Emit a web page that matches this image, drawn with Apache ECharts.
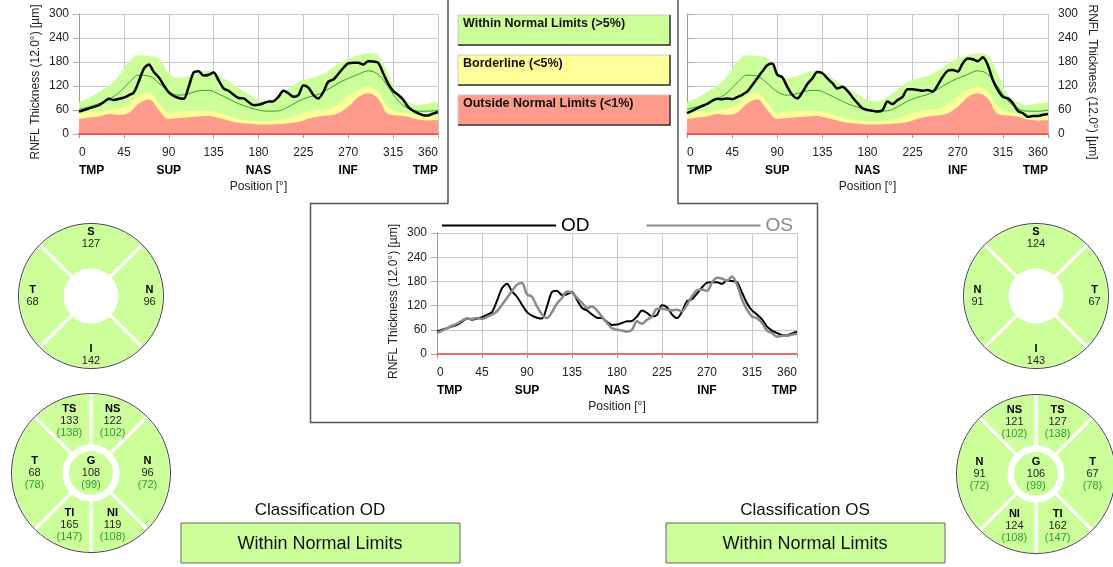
<!DOCTYPE html>
<html>
<head>
<meta charset="utf-8">
<script src="https://cdn.jsdelivr.net/npm/echarts@6/dist/echarts.min.js"></script>
<style>
html, body { margin: 0; padding: 0; background: #fff; }
#main { width: 1113px; height: 567px; }
</style>
</head>
<body>
<div id="main"></div>
<script>
const FONT = '"Liberation Sans", Arial, Helvetica, sans-serif';

// measured RNFL profile, one value every 5 degrees
const angles = [0,5,10,15,20,25,30,35,40,45,50,55,60,65,70,75,80,85,90,95,100,105,110,115,120,125,130,135,140,145,150,155,160,165,170,175,180,185,190,195,200,205,210,215,220,225,230,235,240,245,250,255,260,265,270,275,280,285,290,295,300,305,310,315,320,325,330,335,340,345,350,355,360];
const odThickness = [56,60,64,68,72,80,88,85,88,91,97,104,132,163,174,155,142,122,104,95,90,88,118,154,157,146,148,154,134,114,108,98,90,89,80,72,73,77,81,82,93,108,102,93,97,121,116,98,89,105,131,136,150,165,177,178,178,174,182,181,178,152,126,108,98,86,68,58,52,47,46,51,55];
const osThickness = [52,58,64,70,75,83,88,87,89,87,92,98,106,122,139,156,172,176,148,142,118,98,89,104,125,139,155,152,139,127,114,118,108,92,77,64,60,58,56,60,81,75,85,93,112,112,110,108,110,106,122,143,158,160,156,177,189,187,182,192,172,135,110,93,89,77,58,52,43,45,45,48,50];

// normative bands, one value every 10 degrees
const bandAngles = [0,10,20,30,40,50,60,70,80,90,100,110,120,130,140,150,160,170,180,190,200,210,220,230,240,250,260,270,280,290,300,310,320,330,340,350,360];
const normalUpper = [80,90,105,120,145,180,197,195,189,152,140,145,155,158,146,131,114,100,85,82,92,112,130,138,145,158,175,188,196,202,196,150,97,80,72,76,80];
const normalMean = [62,68,76,87,103,128,147,145,127,106,97,101,108,109,100,88,76,67,60,57,58,68,82,92,99,112,127,139,149,158,149,118,83,64,57,57,60];
const borderlineTop = [53,55,57,60,63,75,97,102,78,54,56,57,58,58,54,45,38,34,32,32,35,40,48,56,60,62,75,95,110,118,105,68,55,52,47,45,46];
const outsideTop = [37,41,44,50,48,53,76,86,60,38,40,42,44,45,40,34,28,26,24,24,25,27,30,38,44,46,52,68,92,102,88,50,46,43,36,34,35];

const sectorAngles = [0, 90, 180, 270, 360];
const sectorLabels = ['TMP', 'SUP', 'NAS', 'INF', 'TMP'];

const legendLabels = ['Within Normal Limits (>5%)', 'Borderline (<5%)', 'Outside Normal Limits (<1%)'];

// quadrant circles
const quadSpans = [90, 90, 90, 90];
const odQuadNames = ['S', 'N', 'I', 'T'];
const odQuadValues = [127, 96, 142, 68];
const osQuadNames = ['S', 'T', 'I', 'N'];
const osQuadValues = [124, 67, 143, 91];

// sector circles
const sectorSpans = [45, 90, 45, 45, 90, 45];
const odSectorNames = ['NS', 'N', 'NI', 'TI', 'T', 'TS'];
const odSectorValues = [122, 96, 119, 165, 68, 133];
const odSectorNormals = [102, 72, 108, 147, 78, 138];
const osSectorNames = ['TS', 'T', 'TI', 'NI', 'N', 'NS'];
const osSectorValues = [127, 67, 162, 124, 91, 121];
const osSectorNormals = [138, 78, 147, 108, 72, 102];
const odGlobal = [108, 99];
const osGlobal = [106, 99];

const classificationOD = 'Within Normal Limits';
const classificationOS = 'Within Normal Limits';

const GREEN = '#ccff99', YELLOW = '#ffff99', RED = '#ff9b8d';

function pts(xs, ys) {
    return xs.map((x, i) => [x, ys[i]]);
}

function xAxisFor(idx) {
    return {
        gridIndex: idx, type: 'value', min: 0, max: 360, interval: 45,
        name: 'Position [°]', nameLocation: 'middle', nameGap: 47,
        nameTextStyle: { fontSize: 12, color: '#222' },
        axisLine: { show: true, onZero: false, lineStyle: { color: '#ff4040', width: 1.5 } },
        axisTick: { show: true, length: 4, lineStyle: { color: '#999' } },
        splitLine: { show: true, lineStyle: { color: '#c8c8c8' } },
        axisLabel: {
            margin: 10, color: '#222', fontSize: 12, lineHeight: 18,
            alignMinLabel: 'left', alignMaxLabel: 'right',
            formatter: function (v) {
                const k = sectorAngles.indexOf(v);
                return k >= 0 ? v + '\n{b|' + sectorLabels[k] + '}' : String(v);
            },
            rich: { b: { fontWeight: 'bold', fontSize: 12, color: '#000', lineHeight: 18 } }
        }
    };
}

function yAxisFor(idx, right) {
    return {
        gridIndex: idx, type: 'value', min: 0, max: 300, interval: 60,
        position: right ? 'right' : 'left',
        name: 'RNFL Thickness (12.0°) [µm]', nameLocation: 'middle', nameGap: right ? 38 : 37,
        nameRotate: right ? -90 : 90,
        nameTextStyle: { fontSize: 12, color: '#222', padding: right ? [0, 0, 0, 16] : [0, 16, 0, 0] },
        axisLine: { show: true, lineStyle: { color: '#999' } },
        axisTick: { show: true, length: 6, lineStyle: { color: '#aaa' } },
        splitLine: { show: true, lineStyle: { color: '#c8c8c8' } },
        axisLabel: { margin: 10, color: '#222', fontSize: 12 }
    };
}

function profileSeries(idx, values, nm) {
    const base = { type: 'line', xAxisIndex: idx, yAxisIndex: idx, showSymbol: false, symbol: 'none', silent: true };
    return [
        Object.assign({}, base, { name: nm + ' normal', data: pts(bandAngles, normalUpper), smooth: 0.4,
            lineStyle: { width: 0 }, areaStyle: { color: GREEN, opacity: 1 } }),
        Object.assign({}, base, { name: nm + ' borderline', data: pts(bandAngles, borderlineTop), smooth: 0.4,
            lineStyle: { width: 0 }, areaStyle: { color: YELLOW, opacity: 1 } }),
        Object.assign({}, base, { name: nm + ' outside', data: pts(bandAngles, outsideTop), smooth: 0.4,
            lineStyle: { width: 0 }, areaStyle: { color: RED, opacity: 1 },
            markLine: { symbol: 'none', silent: true, label: { show: false },
                lineStyle: { color: '#ff4040', width: 1.5, type: 'solid' }, data: [{ yAxis: 0 }] } }),
        Object.assign({}, base, { name: nm + ' mean', data: pts(bandAngles, normalMean), smooth: 0.4,
            lineStyle: { color: '#2ca02c', width: 1 } }),
        Object.assign({}, base, { name: nm + ' profile', data: pts(angles, values), smooth: 0.3,
            lineStyle: { color: '#000', width: 2.5 } })
    ];
}

const labelRich = {
    b: { fontWeight: 'bold', fontSize: 11, color: '#000', lineHeight: 12 },
    n: { fontSize: 11, color: '#2e9e2e', lineHeight: 12 }
};

function quadPies(cx, cy, names, vals) {
    const data = quadSpans.map((s, i) => ({ name: names[i], value: s }));
    return [
        { type: 'pie', center: [cx, cy], radius: [26, 73], startAngle: 135, clockwise: true, silent: true,
          label: { show: false }, labelLine: { show: false },
          itemStyle: { color: GREEN, borderColor: '#fff', borderWidth: 3 }, data: data },
        // transparent ring that only carries the labels a bit further out
        { type: 'pie', center: [cx, cy], radius: [38, 73], startAngle: 135, clockwise: true, silent: true,
          labelLine: { show: false },
          itemStyle: { color: 'rgba(0,0,0,0)', borderWidth: 0 },
          label: { show: true, position: 'inside', fontSize: 11, color: '#222', lineHeight: 12, rich: labelRich,
                   formatter: p => '{b|' + p.name + '}\n' + vals[p.dataIndex] },
          data: data }
    ];
}

function sectorPies(cx, cy, names, vals, norms, glob) {
    return [
        { type: 'pie', center: [cx, cy], radius: [27, 80], startAngle: 90, clockwise: true, silent: true,
          labelLine: { show: false },
          itemStyle: { color: GREEN, borderColor: '#fff', borderWidth: 3 },
          label: { show: true, position: 'inside', fontSize: 11, color: '#222', lineHeight: 12, rich: labelRich,
                   formatter: p => '{b|' + p.name + '}\n' + vals[p.dataIndex] + '\n{n|(' + norms[p.dataIndex] + ')}' },
          data: sectorSpans.map((s, i) => ({ name: names[i], value: s })) },
        { type: 'pie', center: [cx, cy], radius: [0, 22], silent: true, labelLine: { show: false },
          itemStyle: { color: GREEN },
          label: { show: true, position: 'center', fontSize: 11, color: '#222', lineHeight: 12, rich: labelRich,
                   formatter: p => '{b|' + p.name + '}\n' + glob[0] + '\n{n|(' + glob[1] + ')}' },
          data: [{ name: 'G', value: 1 }] }
    ];
}

const chart = echarts.init(document.getElementById('main'));

const legendColors = [GREEN, YELLOW, RED];
const graphics = [
    { type: 'polyline', z: 50, shape: { points: [[448, 0], [448, 203.5], [310.5, 203.5], [310.5, 422.5], [817.5, 422.5], [817.5, 203.5], [678, 203.5], [678, 0]] },
      style: { stroke: '#555', lineWidth: 1.5, fill: null } }
];
legendLabels.forEach((t, i) => {
    const y = 15 + i * 40;
    graphics.push({ type: 'rect', shape: { x: 458, y: y, width: 212, height: 30 }, style: { fill: legendColors[i], stroke: '#ccc', lineWidth: 1 } });
    graphics.push({ type: 'polyline', shape: { points: [[458, y + 30], [670, y + 30], [670, y]] }, style: { stroke: '#333', lineWidth: 1.5, fill: null } });
    graphics.push({ type: 'text', x: 463, y: y + 2, style: { text: t, fontFamily: FONT, fontSize: 12.5, fontWeight: 'bold', fill: '#111' } });
});
[[320, 'Classification OD', classificationOD], [805, 'Classification OS', classificationOS]].forEach(c => {
    graphics.push({ type: 'text', x: c[0], y: 510, style: { text: c[1], fontFamily: FONT, fontSize: 17, fill: '#111', align: 'center', verticalAlign: 'middle' } });
    graphics.push({ type: 'rect', shape: { x: c[0] - 139, y: 523, width: 279, height: 40 }, style: { fill: GREEN, stroke: '#666', lineWidth: 1 } });
    graphics.push({ type: 'text', x: c[0], y: 544, style: { text: c[2], fontFamily: FONT, fontSize: 18, fill: '#111', align: 'center', verticalAlign: 'middle' } });
});
[[91, 296, 72.5], [91, 473, 79.5], [1036, 296, 72.5], [1036, 474, 79.5]].forEach(c => {
    graphics.push({ type: 'circle', z: 60, shape: { cx: c[0], cy: c[1], r: c[2] }, style: { fill: null, stroke: '#444', lineWidth: 1 } });
});

chart.setOption({
    animation: false,
    textStyle: { fontFamily: FONT },
    grid: [
        { left: 79, top: 14, width: 359, height: 120, outerBoundsMode: 'none' },
        { left: 687, top: 14, width: 361, height: 120, outerBoundsMode: 'none' },
        { left: 437, top: 233, width: 360, height: 121, outerBoundsMode: 'none' }
    ],
    xAxis: [xAxisFor(0), xAxisFor(1), xAxisFor(2)],
    yAxis: [yAxisFor(0, false), yAxisFor(1, true), yAxisFor(2, false)],
    legend: {
        left: 437, top: 211, itemWidth: 114, itemHeight: 2, itemGap: 57, icon: 'rect', selectedMode: false,
        textStyle: { fontSize: 19 },
        data: [{ name: 'OD', textStyle: { color: '#000' } }, { name: 'OS', textStyle: { color: '#888' } }]
    },
    graphic: graphics,
    series: [].concat(
        profileSeries(0, odThickness, 'OD'),
        profileSeries(1, osThickness, 'OS'),
        [
            { type: 'line', name: 'OD', xAxisIndex: 2, yAxisIndex: 2, data: pts(angles, odThickness), smooth: 0.3,
              showSymbol: false, symbol: 'none', color: '#000', lineStyle: { color: '#000', width: 2 } },
            { type: 'line', name: 'OS', xAxisIndex: 2, yAxisIndex: 2, data: pts(angles, osThickness), smooth: 0.3,
              showSymbol: false, symbol: 'none', color: '#8a8a8a', lineStyle: { color: '#8a8a8a', width: 2.5 } }
        ],
        quadPies(91, 296, odQuadNames, odQuadValues),
        sectorPies(91, 473, odSectorNames, odSectorValues, odSectorNormals, odGlobal),
        quadPies(1036, 296, osQuadNames, osQuadValues),
        sectorPies(1036, 474, osSectorNames, osSectorValues, osSectorNormals, osGlobal)
    )
});
</script>
</body>
</html>
